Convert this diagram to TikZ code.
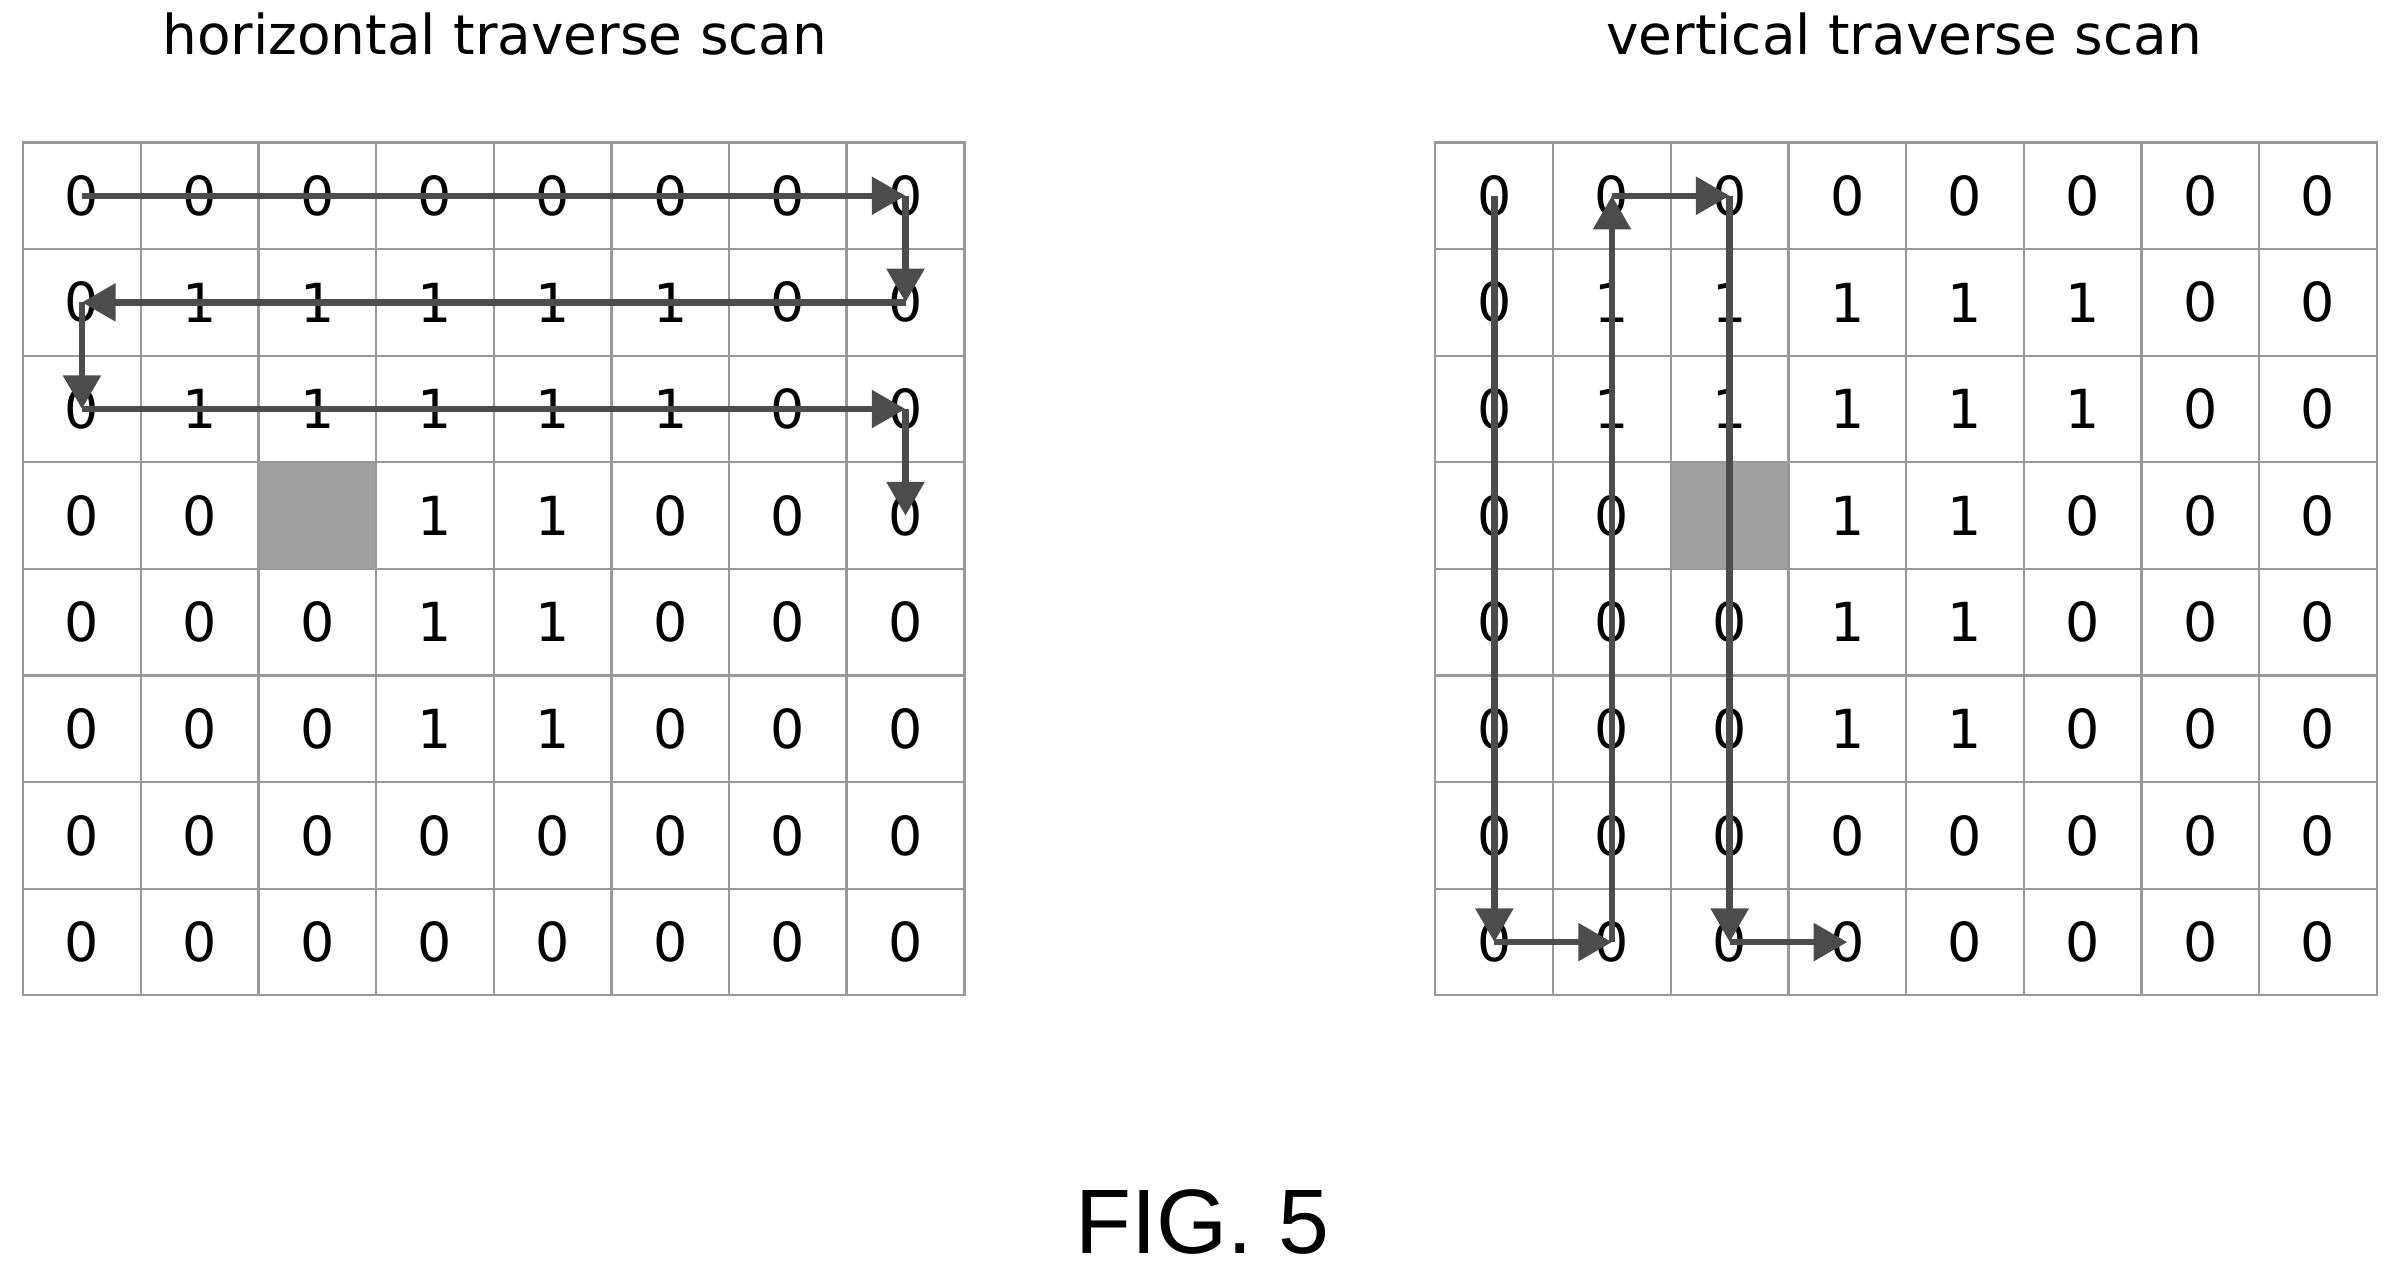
\documentclass[tikz,border=0pt]{standalone}
\usepackage{fontspec}
\setmainfont{DejaVu Sans}
\newfontfamily\figfont{Liberation Sans}
\usetikzlibrary{arrows.meta}
\tikzset{
    cell/.style={rectangle, draw=gray!80, minimum width=0.77cm, minimum height=0.696cm, inner sep=0pt, font=\fontsize{10}{12}\selectfont},
    v0/.style={node contents=0},
    v1/.style={node contents=1},
    vx/.style={fill=gray!75, node contents={}},
    scan/.style={-{Triangle[length=2.2mm, width=2.4mm]}, very thick, draw=black!70},
}
\begin{document}
\begin{tikzpicture}[x=1cm, y=1cm]
    \useasboundingbox (0,0) rectangle (15.68,-8.355);
    % both grids
    \foreach \g/\x in {L/0.15, R/9.37} {
        \foreach \row [count=\r from 0] in {{0,0,0,0,0,0,0,0},{0,1,1,1,1,1,0,0},{0,1,1,1,1,1,0,0},{0,0,x,1,1,0,0,0},{0,0,0,1,1,0,0,0},{0,0,0,1,1,0,0,0},{0,0,0,0,0,0,0,0},{0,0,0,0,0,0,0,0}} {
            \foreach \v [count=\c from 0] in \row {
                \node (\g-\r-\c) at ({\x+0.385+0.768*\c}, {-0.93-0.348-0.696*\r}) [cell, v\v];
            }
        }
    }
    % titles
    \node[font=\fontsize{10.2}{12}\selectfont] (tl) at (3.23,-0.22) {horizontal traverse scan};
    \node[font=\fontsize{10.2}{12}\selectfont] (tr) at (12.43,-0.22) {vertical traverse scan};
    \node[font=\figfont\fontsize{17}{20}\selectfont] (fig) at (7.85,-7.98) {FIG. 5};
    % horizontal scan
    \draw[scan] (L-0-0.center) -- (L-0-7.center);
    \draw[scan] (L-0-7.center) -- (L-1-7.center);
    \draw[scan] (L-1-7.center) -- (L-1-0.center);
    \draw[scan] (L-1-0.center) -- (L-2-0.center);
    \draw[scan] (L-2-0.center) -- (L-2-7.center);
    \draw[scan] (L-2-7.center) -- (L-3-7.center);
    % vertical scan
    \draw[scan] (R-0-0.center) -- (R-7-0.center);
    \draw[scan] (R-7-0.center) -- (R-7-1.center);
    \draw[scan] (R-7-1.center) -- (R-0-1.center);
    \draw[scan] (R-0-1.center) -- (R-0-2.center);
    \draw[scan] (R-0-2.center) -- (R-7-2.center);
    \draw[scan] (R-7-2.center) -- (R-7-3.center);
\end{tikzpicture}
\end{document}
